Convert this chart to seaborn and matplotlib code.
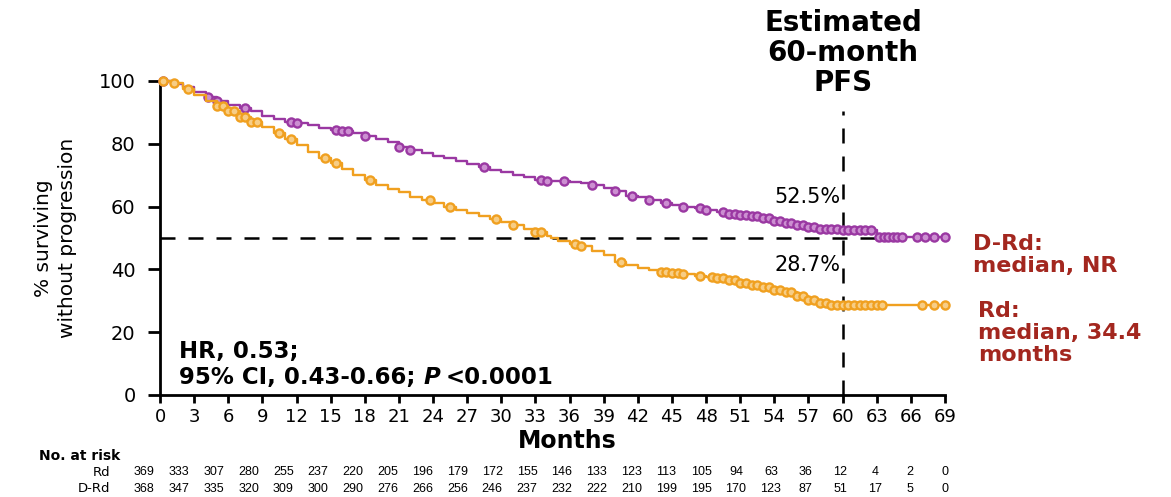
import numpy as np
import pandas as pd
import matplotlib
matplotlib.use("Agg")
import matplotlib.pyplot as plt
import matplotlib.transforms as mtransforms
import seaborn as sns

# Kaplan-Meier step points (months, % progression-free)
drd_time = [0, 1, 2, 3, 4, 5, 6, 7, 8, 9, 10, 11, 12, 13, 14, 15, 16, 17, 18, 19, 20,
            21, 22, 23, 24, 25, 26, 27, 28, 29, 30, 31, 32, 33, 34, 36, 37, 38, 39, 40,
            41, 42, 43, 44, 45, 46, 47, 48, 49, 50, 51, 52, 53, 54, 55, 56, 57, 58, 59,
            60, 63, 69]
drd_surv = [100, 99, 98, 96.5, 95, 93.5, 92.5, 91.5, 90.5, 89, 88, 87, 86.5, 86, 85,
            84.5, 84, 83.5, 82.5, 81.5, 80.5, 79, 78, 77, 76, 75.5, 74.5, 73.5, 72.5,
            71.5, 71, 70, 69.5, 68.5, 68, 67.8, 67.5, 67, 66, 65, 63.5, 63, 62, 61,
            60.5, 60, 59.5, 58.8, 58.3, 57.8, 57.3, 57, 56.4, 55.5, 54.8, 54, 53.5, 53,
            52.8, 52.5, 50.2, 50.2]
rd_time = [0, 1, 2, 3, 4, 5, 6, 7, 8, 9, 10, 11, 12, 13, 14, 15, 16, 17, 18, 19, 20,
           21, 22, 23, 24, 25, 26, 27, 28, 29, 30, 31, 32, 33, 34, 34.4, 35, 36, 37, 38,
           39, 40, 41, 42, 43, 44, 45, 46, 47, 48, 49, 50, 51, 52, 53, 54, 55, 56, 57,
           58, 59, 60, 69]
rd_surv = [100, 99.3, 97.5, 95.5, 93.5, 92, 90.5, 88.5, 87, 85.5, 83.5, 81.5, 79.5,
           77.5, 75.5, 74, 72, 70, 68.5, 67, 65.5, 64.5, 63, 62, 61, 60, 59, 58, 57, 56,
           55, 54, 53, 52, 50.5, 50, 49.2, 48.2, 47.5, 46, 44.5, 42.5, 41.5, 40.5, 39.8,
           39.2, 39, 38.5, 38, 37.6, 37.2, 36.5, 35.7, 35, 34.3, 33.5, 32.8, 31.5, 30.2,
           29.2, 28.8, 28.7, 28.7]

# Censoring times
drd_censor = [0.3, 4.2, 5, 7.5, 11.5, 12, 15.5, 16, 16.5, 18, 21, 22, 28.5, 33.5, 34,
              35.5, 38, 40, 41.5, 43, 44.5, 46, 47.5, 48, 49.5, 50, 50.5, 51, 51.5, 52,
              52.5, 53, 53.5, 54, 54.5, 55, 55.5, 56, 56.5, 57, 57.5, 58, 58.5, 59, 59.5,
              60, 60.5, 61, 61.5, 62, 62.5, 63.2, 63.6, 64, 64.4, 64.8, 65.2, 66.5, 67.2,
              68, 69]
rd_censor = [0.3, 1.2, 2.5, 5, 5.5, 6, 6.5, 7, 7.5, 8, 8.5, 10.5, 11.5, 14.5, 15.5, 18.5,
             23.7, 25.5, 29.5, 31, 33, 33.5, 36.5, 37, 40.5, 44, 44.5, 45, 45.5, 46, 47.5,
             48.5, 49, 49.5, 50, 50.5, 51, 51.5, 52, 52.5, 53, 53.5, 54, 54.5, 55, 55.5,
             56, 56.5, 57, 57.5, 58, 58.5, 59, 59.5, 60, 60.5, 61, 61.5, 62, 62.5, 63,
             63.5, 67, 68, 69]

x_ticks = list(range(0, 70, 3))
risk_rd = [369, 333, 307, 280, 255, 237, 220, 205, 196, 179, 172, 155, 146, 133, 123,
           113, 105, 94, 63, 36, 12, 4, 2, 0]
risk_drd = [368, 347, 335, 320, 309, 300, 290, 276, 266, 256, 246, 237, 232, 222, 210,
            199, 195, 170, 123, 87, 51, 17, 5, 0]

PURPLE = "#9a38a2"
ORANGE = "#f0a020"
DARKRED = "#a3271f"

sns.set_theme(style="white")
plt.rcParams["font.family"] = ["DejaVu Sans"]
for key in ["text.color", "axes.labelcolor", "xtick.color", "ytick.color"]:
    plt.rcParams[key] = "black"

W, H = 1171, 497
fig = plt.figure(figsize=(W / 100, H / 100), dpi=100)
ax = fig.add_axes([160 / W, 1 - 395 / H, 785 / W, 314 / H])


def step_value(times, surv, t):
    idx = np.searchsorted(times, t, side="right") - 1
    return np.asarray(surv)[idx]


curves = pd.concat([
    pd.DataFrame({"month": drd_time, "pfs": drd_surv, "arm": "D-Rd"}),
    pd.DataFrame({"month": rd_time, "pfs": rd_surv, "arm": "Rd"}),
])
censors = pd.concat([
    pd.DataFrame({"month": drd_censor, "pfs": step_value(drd_time, drd_surv, drd_censor), "arm": "D-Rd"}),
    pd.DataFrame({"month": rd_censor, "pfs": step_value(rd_time, rd_surv, rd_censor), "arm": "Rd"}),
])
palette = {"Rd": ORANGE, "D-Rd": PURPLE}
tints = {"Rd": "#f7cd85", "D-Rd": "#cc8fd1"}

# Reference lines: median and 60-month landmark
dash = (0, (6, 5.2))
ax.plot([0, 63], [50, 50], ls=dash, color="black", lw=1.8, zorder=2)
ax.plot([60, 60], [0, 90.5], ls=dash, color="black", lw=1.8, zorder=2, clip_on=False)

for z, arm in enumerate(["D-Rd", "Rd"]):
    sub = curves[curves.arm == arm]
    sns.lineplot(data=sub, x="month", y="pfs", color=palette[arm], lw=1.7,
                 drawstyle="steps-post", estimator=None, sort=False, ax=ax,
                 zorder=3 + 2 * z, clip_on=False)
    cs = censors[censors.arm == arm]
    sns.scatterplot(data=cs, x="month", y="pfs", marker="o", s=34,
                    facecolor=tints[arm], edgecolor=palette[arm], linewidth=1.7,
                    ax=ax, zorder=4 + 2 * z, clip_on=False, legend=False)

ax.set_xlim(0, 69)
ax.set_ylim(0, 100)
ax.set_xticks(x_ticks)
ax.set_yticks([0, 20, 40, 60, 80, 100])
ax.tick_params(axis="y", direction="out", length=8.5, width=2, labelsize=14, pad=9,
               left=True)
ax.tick_params(axis="x", direction="out", length=6, width=2, labelsize=13, pad=3,
               bottom=True)
for side in ["top", "right"]:
    ax.spines[side].set_visible(False)
for side in ["left", "bottom"]:
    ax.spines[side].set_color("black")
    ax.spines[side].set_linewidth(2)
ax.set_xlabel("")
ax.set_ylabel("% surviving\nwithout progression", fontsize=14.5, labelpad=16,
              linespacing=1.3)

# Landmark values
ax.text(59.8, 63, "52.5%", ha="right", va="center", fontsize=15)
ax.text(59.8, 41.4, "28.7%", ha="right", va="center", fontsize=15)

# Hazard ratio text
HR_SIZE = 16.5
ax.text(1.7, 14, "HR, 0.53;", fontsize=HR_SIZE, fontweight="bold", va="center")
renderer = fig.canvas.get_renderer()
t1 = ax.text(1.7, 5.5, "95% CI, 0.43-0.66; ", fontsize=HR_SIZE, fontweight="bold",
             va="center")
bb = t1.get_window_extent(renderer=renderer)
x_p = ax.transData.inverted().transform((bb.x1, bb.y0))[0]
t2 = ax.text(x_p, 5.5, "P", fontsize=HR_SIZE, fontweight="bold", style="italic",
             va="center")
bb2 = t2.get_window_extent(renderer=renderer)
x_rest = ax.transData.inverted().transform((bb2.x1 + 5, bb2.y0))[0]
ax.text(x_rest, 5.5, "<0.0001", fontsize=HR_SIZE, fontweight="bold", va="center")

# Landmark title above the dashed line
fig.text(843 / W, 1 - 53 / H, "Estimated\n60-month\nPFS", ha="center",
         va="center", fontsize=20, fontweight="bold", linespacing=1.1)

# Arm labels on the right
fig.text(973 / W, 1 - 255 / H, "D-Rd:\nmedian, NR", ha="left", va="center",
         fontsize=16, fontweight="bold", color=DARKRED, linespacing=1.15)
fig.text(978 / W, 1 - 333 / H, "Rd:\nmedian, 34.4\nmonths", ha="left",
         va="center", fontsize=16, fontweight="bold", color=DARKRED,
         linespacing=1.15)

# Axis title and number-at-risk table
fig.text(567 / W, 1 - 441 / H, "Months", ha="center", va="center",
         fontsize=17, fontweight="bold")
fig.text(39 / W, 1 - 456 / H, "No. at risk", ha="left", va="center",
         fontsize=10, fontweight="bold")
fig.text(110 / W, 1 - 472 / H, "Rd", ha="right", va="center", fontsize=9.5)
fig.text(110 / W, 1 - 489 / H, "D-Rd", ha="right", va="center", fontsize=9.5)
trans = mtransforms.blended_transform_factory(ax.transData, fig.transFigure)
for t, a, b in zip(x_ticks, risk_rd, risk_drd):
    col_x = t - 1.4 * (1 - t / 69)
    ax.text(col_x, 1 - 472 / H, str(a), transform=trans, ha="center", va="center",
            fontsize=9, family=["Liberation Sans"])
    ax.text(col_x, 1 - 489 / H, str(b), transform=trans, ha="center", va="center",
            fontsize=9, family=["Liberation Sans"])

fig.savefig("out.png", dpi=100)
